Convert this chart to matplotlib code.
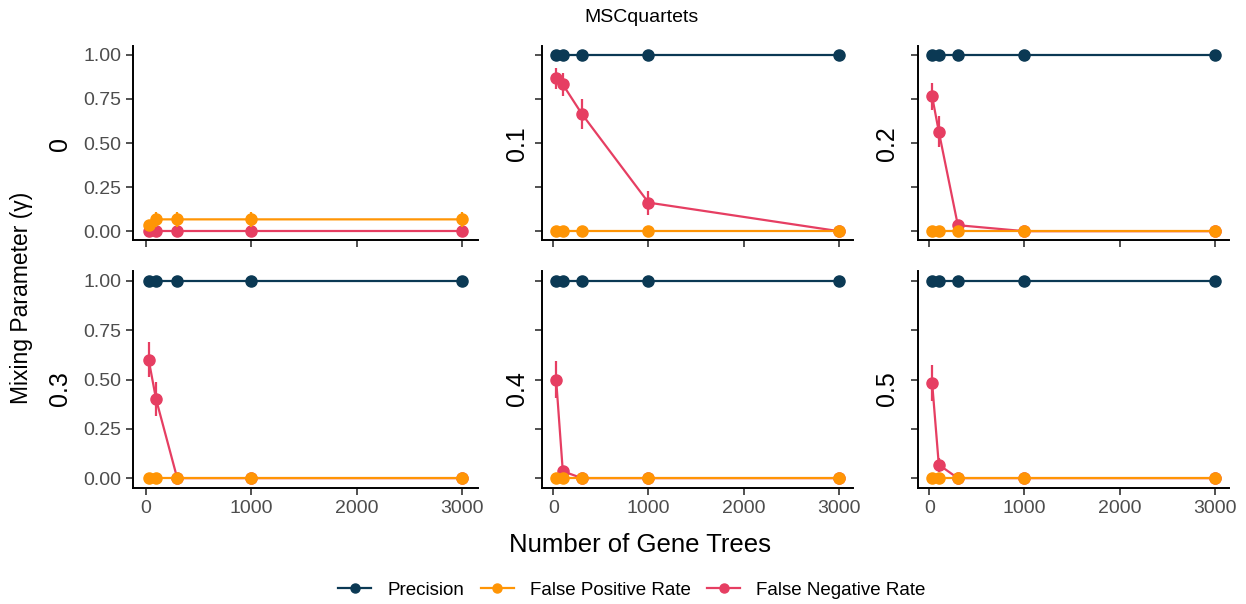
import matplotlib.pyplot as plt
import numpy as np
from matplotlib.lines import Line2D

plt.rcParams['font.family'] = ['Liberation Sans', 'DejaVu Sans']

# number of gene trees
n_trees = [30, 100, 300, 1000, 3000]
gammas = ['0', '0.1', '0.2', '0.3', '0.4', '0.5']

# precision (NaN where undefined)
prec = {
    '0':   [np.nan] * 5,
    '0.1': [1, 1, 1, 1, 1],
    '0.2': [1, 1, 1, 1, 1],
    '0.3': [1, 1, 1, 1, 1],
    '0.4': [1, 1, 1, 1, 1],
    '0.5': [1, 1, 1, 1, 1],
}
# false positive rate + error
fpr = {
    '0':   [0.033, 0.067, 0.067, 0.067, 0.067],
    '0.1': [0, 0, 0, 0, 0],
    '0.2': [0, 0, 0, 0, 0],
    '0.3': [0, 0, 0, 0, 0],
    '0.4': [0, 0, 0, 0, 0],
    '0.5': [0, 0, 0, 0, 0],
}
fpr_err = {
    '0':   [0.033, 0.042, 0.042, 0.042, 0.042],
    '0.1': [0, 0, 0, 0, 0],
    '0.2': [0, 0, 0, 0, 0],
    '0.3': [0, 0, 0, 0, 0],
    '0.4': [0, 0, 0, 0, 0],
    '0.5': [0, 0, 0, 0, 0],
}
# false negative rate + error
fnr = {
    '0':   [0, 0, 0, 0, 0],
    '0.1': [0.866, 0.832, 0.665, 0.162, 0],
    '0.2': [0.764, 0.565, 0.034, 0, 0],
    '0.3': [0.60, 0.40, 0, 0, 0],
    '0.4': [0.50, 0.035, 0, 0, 0],
    '0.5': [0.483, 0.068, 0, 0, 0],
}
fnr_err = {
    '0':   [0, 0, 0, 0, 0],
    '0.1': [0.06, 0.066, 0.087, 0.068, 0],
    '0.2': [0.076, 0.088, 0.01, 0, 0],
    '0.3': [0.088, 0.087, 0, 0, 0],
    '0.4': [0.092, 0.02, 0, 0, 0],
    '0.5': [0.09, 0.035, 0, 0, 0],
}

c_prec = '#0B3954'
c_fpr = '#FF9505'
c_fnr = '#E63E62'

W, H = 1246, 604
fig = plt.figure(figsize=(W / 100, H / 100), dpi=100)

# axes boxes in pixels: left, top, right, bottom
cols = [(133, 478), (542, 853), (918, 1229)]
rows = [(46, 240), (271, 488)]
strip_x = [60, 517, 887]
strip_y = [144, 389]

for i, g in enumerate(gammas):
    r, c = divmod(i, 3)
    x0, x1 = cols[c]
    y0, y1 = rows[r]
    ax = fig.add_axes([x0 / W, 1 - y1 / H, (x1 - x0) / W, (y1 - y0) / H])

    ax.errorbar(n_trees, fnr[g], yerr=fnr_err[g], color=c_fnr, lw=1.6,
                marker='o', ms=8, elinewidth=1.6, capsize=0, zorder=2)
    ax.errorbar(n_trees, fpr[g], yerr=fpr_err[g], color=c_fpr, lw=1.6,
                marker='o', ms=8, elinewidth=1.6, capsize=0, zorder=3)
    ax.plot(n_trees, prec[g], color=c_prec, lw=1.6, marker='o', ms=8, zorder=4)

    ax.set_xlim(-118.5, 3148.5)
    ax.set_ylim(-0.05, 1.05)
    ax.set_xticks([0, 1000, 2000, 3000])
    ax.set_yticks([0, 0.25, 0.5, 0.75, 1.0])
    if c == 0:
        ax.set_yticklabels(['0.00', '0.25', '0.50', '0.75', '1.00'])
    else:
        ax.set_yticklabels([])
    if r == 0:
        ax.set_xticklabels([])
    for s in ['top', 'right']:
        ax.spines[s].set_visible(False)
    for s in ['left', 'bottom']:
        ax.spines[s].set_linewidth(1.4)
    ax.tick_params(length=5, width=1.2, color='#333333', labelcolor='#4d4d4d',
                   labelsize=14)

    fig.text(strip_x[c] / W, 1 - strip_y[r] / H, g, rotation=90,
             ha='center', va='center', fontsize=18)

fig.text(641 / W, 1 - 18 / H, 'MSCquartets', ha='center', va='center', fontsize=14)
fig.text(640 / W, 1 - 545 / H, 'Number of Gene Trees', ha='center', va='center',
         fontsize=18.5)
fig.text(22 / W, 1 - 298 / H, 'Mixing Parameter (\u03b3)', rotation=90,
         ha='center', va='center', fontsize=16.5)

handles = [Line2D([], [], color=c, lw=1.6, marker='o', ms=6.5)
           for c in [c_prec, c_fpr, c_fnr]]
fig.legend(handles, ['Precision', 'False Positive Rate', 'False Negative Rate'],
           loc='center', bbox_to_anchor=(632 / W, 1 - 590 / H), ncol=3,
           frameon=False, fontsize=13.5, handlelength=1.75, handletextpad=0.85,
           columnspacing=0.9)

fig.savefig('out.png', dpi=100)
